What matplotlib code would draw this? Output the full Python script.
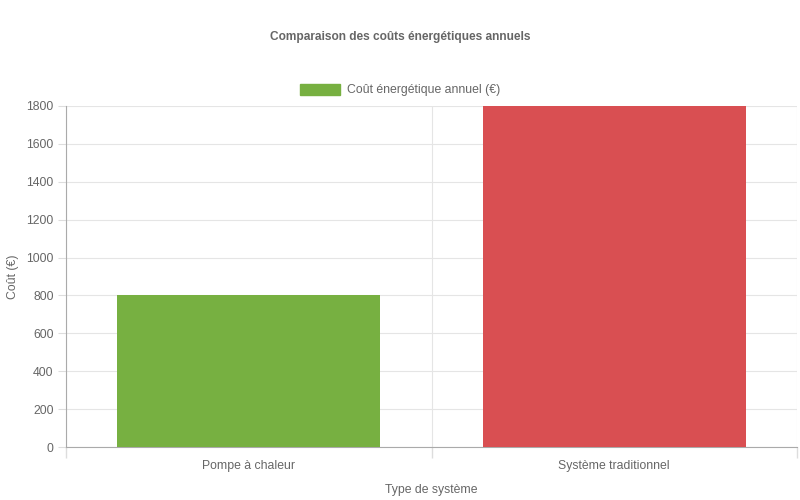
import matplotlib
matplotlib.use("Agg")
import matplotlib.pyplot as plt
from matplotlib.patches import Patch

categories = ["Pompe à chaleur", "Système traditionnel"]
values = [800, 1800]
colors = ["#77b041", "#d94f52"]
series_label = "Coût énergétique annuel (€)"
title = "Comparaison des coûts énergétiques annuels"
yticks = [0, 200, 400, 600, 800, 1000, 1200, 1400, 1600, 1800]

plt.rcParams['font.family'] = ['Liberation Sans', 'DejaVu Sans']
txt = "#666666"

W, H = 800, 500
fig = plt.figure(figsize=(8, 5), dpi=100)
l, r, t, b = 66, 797, 106, 447
ax = fig.add_axes([l / W, (H - b) / H, (r - l) / W, (b - t) / H])

x = list(range(len(categories)))
ax.bar(x, values, width=0.72, color=colors, zorder=3)
ax.set_xlim(-0.5, len(categories) - 0.5)
ax.set_ylim(0, 1800)

ax.set_yticks(yticks)
ax.set_yticklabels([str(v) for v in yticks], fontsize=8.8, color=txt)
ax.tick_params(axis='y', length=6, color="#dddddd", pad=3)
ax.set_xticks(x)
ax.set_xticklabels(categories, fontsize=8.8, color=txt)
ax.tick_params(axis='x', which='major', length=0, pad=9)
ax.set_xticks([i - 0.5 for i in range(len(categories) + 1)], minor=True)
ax.tick_params(axis='x', which='minor', length=8, color="#dddddd", width=1)

ax.grid(True, axis='y', which='major', color="#e5e5e5", linewidth=0.8, zorder=0)
ax.grid(True, axis='x', which='minor', color="#e5e5e5", linewidth=0.8, zorder=0)

for s in ['top', 'right']:
    ax.spines[s].set_visible(False)
ax.spines['left'].set_color("#aaaaaa")
ax.spines['bottom'].set_color("#aaaaaa")

ax.set_ylabel("Coût (€)", fontsize=8.8, color=txt, labelpad=5)
ax.set_xlabel("Type de système", fontsize=8.8, color=txt, labelpad=9)

fig.text(400 / W, 1 - 37 / H, title, ha='center', va='center',
         fontsize=8.6, fontweight='bold', color=txt)

handle = Patch(facecolor=colors[0], edgecolor=colors[0])
fig.legend([handle], [series_label], loc='center', bbox_to_anchor=(400 / W, 1 - 90 / H),
           frameon=False, fontsize=8.8, labelcolor=txt, handlelength=3.3,
           handleheight=1.0, handletextpad=0.5)

fig.savefig("out.png", dpi=100, facecolor="white")
